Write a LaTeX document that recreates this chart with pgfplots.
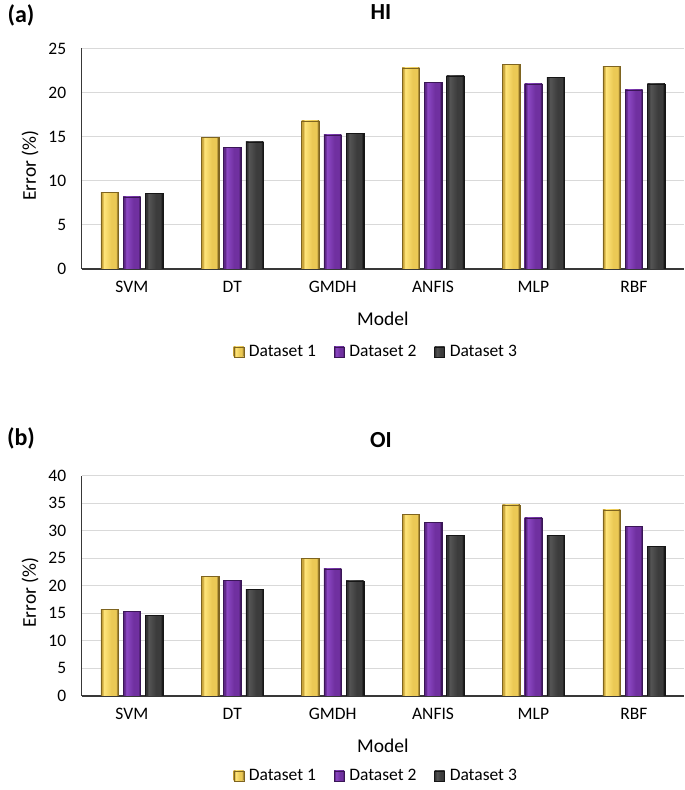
\documentclass[border=0pt]{standalone}
\usepackage{pgfplots}
\pgfplotsset{compat=1.18}
\usepackage{pgfplotstable}
\usepackage{fontspec}
\setmainfont{Carlito}
\definecolor{goldL}{HTML}{FFE57A}
\definecolor{goldM}{HTML}{EBC955}
\definecolor{goldE}{HTML}{C9A53C}
\definecolor{goldD}{HTML}{7E6420}
\definecolor{purL}{HTML}{8C48C4}
\definecolor{purM}{HTML}{7030A0}
\definecolor{purE}{HTML}{5E2888}
\definecolor{purD}{HTML}{3A1656}
\definecolor{blkL}{HTML}{555555}
\definecolor{blkM}{HTML}{3C3C3C}
\definecolor{blkE}{HTML}{333333}
\definecolor{blkD}{HTML}{161616}
\definecolor{gridc}{HTML}{D9D9D9}
\pgfdeclarehorizontalshading{gbev}{100bp}{color(0bp)=(goldE); color(25bp)=(goldE); color(29bp)=(goldE); color(34bp)=(goldL); color(55bp)=(goldM); color(68bp)=(goldM); color(73bp)=(goldD); color(75bp)=(goldD); color(100bp)=(goldD)}
\pgfdeclarehorizontalshading{pbev}{100bp}{color(0bp)=(purE); color(25bp)=(purE); color(29bp)=(purE); color(34bp)=(purL); color(55bp)=(purM); color(68bp)=(purM); color(73bp)=(purD); color(75bp)=(purD); color(100bp)=(purD)}
\pgfdeclarehorizontalshading{kbev}{100bp}{color(0bp)=(blkE); color(25bp)=(blkE); color(29bp)=(blkE); color(34bp)=(blkL); color(55bp)=(blkM); color(68bp)=(blkM); color(73bp)=(blkD); color(75bp)=(blkD); color(100bp)=(blkD)}
\pgfplotstableread{
x  d1   d2   d3
0  8.7  8.2  8.6
1  14.9 13.8 14.4
2  16.8 15.2 15.4
3  22.8 21.2 21.9
4  23.2 21.0 21.7
5  23.0 20.3 21.0
}\hidata
\pgfplotstableread{
x  d1   d2   d3
0  15.7 15.4 14.6
1  21.7 21.0 19.4
2  25.0 23.1 20.9
3  32.9 31.5 29.2
4  34.7 32.3 29.2
5  33.8 30.8 27.2
}\oidata
\pgfplotsset{
  panel/.style={
    scale only axis, width=602.3pt, height=220.5pt, anchor=south west,
    xmin=-0.5, xmax=5.5, ymin=0,
    xtick={0,...,5}, xticklabels={SVM,DT,GMDH,ANFIS,MLP,RBF},
    axis x line*=bottom, axis y line*=left,
    axis line style={black!78, line width=1.1pt},
    ymajorgrids, grid style={gridc, line width=1.1pt},
    major tick length=0pt,
    /pgf/number format/assume math mode=true,
    tick label style={font=\fontsize{17.5}{20}\selectfont, black},
    xticklabel style={yshift=-9pt},
    yticklabel style={xshift=-12pt},
    xlabel={Model}, ylabel={Error (\%)},
    label style={font=\fontsize{19.5}{22}\selectfont},
    xlabel style={yshift=-12pt},
    ylabel style={yshift=3pt, xshift=-7pt},
    legend columns=3,
    legend style={draw=none, fill=none, font=\fontsize{17.5}{20}\selectfont,
      /tikz/every even column/.append style={column sep=16pt}},
    ybar, bar width=0.174,
  },
  gbar/.style={draw=goldD, line width=0.3pt, shading=gbev, bar shift=-0.222,
    legend image code/.code={\draw[goldD, shading=gbev] (0pt,-5pt) rectangle (10pt,5pt); \path (13pt,0pt);}},
  pbar/.style={draw=purD, line width=0.3pt, shading=pbev, bar shift=0,
    legend image code/.code={\draw[purD, shading=pbev] (0pt,-5pt) rectangle (10pt,5pt); \path (13pt,0pt);}},
  kbar/.style={draw=blkD, line width=0.3pt, shading=kbev, bar shift=0.222,
    legend image code/.code={\draw[blkD, shading=kbev] (0pt,-5pt) rectangle (10pt,5pt); \path (13pt,0pt);}},
}
\begin{document}
\begin{tikzpicture}
\useasboundingbox (0,0) rectangle (685pt,790pt);
\begin{axis}[panel, at={(81.7pt,521pt)}, ymax=25, ytick={0,5,...,25},
  legend style={at={(0.489,-0.376)}, anchor=center}]
\pgfplotsinvokeforeach{0,...,5}{
  \addplot[gbar, forget plot, restrict x to domain=#1:#1] table[x=x,y=d1]{\hidata};
  \addplot[pbar, forget plot, restrict x to domain=#1:#1] table[x=x,y=d2]{\hidata};
  \addplot[kbar, forget plot, restrict x to domain=#1:#1] table[x=x,y=d3]{\hidata};
}
\addlegendimage{gbar}\addlegendentry{Dataset 1}
\addlegendimage{pbar}\addlegendentry{Dataset 2}
\addlegendimage{kbar}\addlegendentry{Dataset 3}
\end{axis}
\node[font=\fontsize{24}{28}\selectfont\bfseries] at (21pt,775pt) {(a)};
\node[font=\fontsize{23}{28}\selectfont\bfseries] at (381pt,778pt) {HI};
\begin{axis}[panel, at={(81.7pt,94pt)}, ymax=40, ytick={0,5,...,40},
  legend style={at={(0.489,-0.362)}, anchor=center}]
\pgfplotsinvokeforeach{0,...,5}{
  \addplot[gbar, forget plot, restrict x to domain=#1:#1] table[x=x,y=d1]{\oidata};
  \addplot[pbar, forget plot, restrict x to domain=#1:#1] table[x=x,y=d2]{\oidata};
  \addplot[kbar, forget plot, restrict x to domain=#1:#1] table[x=x,y=d3]{\oidata};
}
\addlegendimage{gbar}\addlegendentry{Dataset 1}
\addlegendimage{pbar}\addlegendentry{Dataset 2}
\addlegendimage{kbar}\addlegendentry{Dataset 3}
\end{axis}
\node[font=\fontsize{24}{28}\selectfont\bfseries] at (21pt,352pt) {(b)};
\node[font=\fontsize{23}{28}\selectfont\bfseries] at (381pt,350pt) {OI};
\end{tikzpicture}
\end{document}
